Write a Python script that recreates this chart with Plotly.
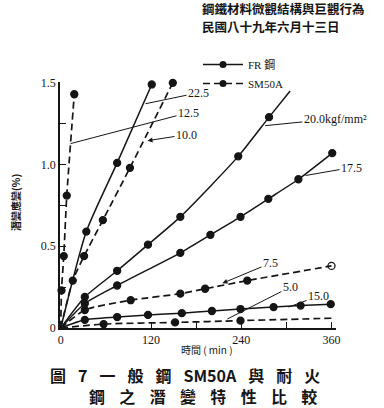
import plotly.graph_objects as go

# ---------------- data ----------------
time_tickvals = [0, 60, 120, 180, 240, 300, 360]
time_ticktext = ["0", "", "120", "", "240", "", "360"]
strain_tickvals = [0, 0.25, 0.5, 0.75, 1.0, 1.25, 1.5]
strain_ticktext = ["0", "", "0.5", "", "1.0", "", "1.5"]

# FR steel (solid)
fr225_t = [34, 75, 121]
fr225_y = [0.59, 1.01, 1.49]
fr200_t = [32, 75, 116, 159, 236, 277, 305]
fr200_y = [0.19, 0.35, 0.51, 0.68, 1.05, 1.29, 1.45]
fr175_t = [32, 75, 159, 199, 239, 276, 316, 361]
fr175_y = [0.15, 0.26, 0.46, 0.57, 0.68, 0.79, 0.91, 1.07]
fr150_t = [32, 75, 116, 161, 201, 239, 283, 319, 359]
fr150_y = [0.05, 0.067, 0.08, 0.091, 0.104, 0.116, 0.128, 0.137, 0.146]

# SM50A (dashed)
sm125_t = [1, 4, 8, 18]
sm125_y = [0.23, 0.44, 0.81, 1.43]
sm100_t = [16, 31, 56, 92, 149]
sm100_y = [0.29, 0.44, 0.66, 0.98, 1.50]
sm75_t = [32, 93, 159, 192, 248, 360]
sm75_y = [0.11, 0.17, 0.21, 0.24, 0.29, 0.38]
sm50_t = [57, 152, 239, 362]
sm50_y = [0.024, 0.034, 0.045, 0.06]

# stress labels and the curve points their leaders touch
label_text = ["22.5", "12.5", "10.0", "20.0kgf/mm²", "17.5", "7.5", "5.0", "15.0"]
label_t = [112.7, 13, 115.4, 272, 325.5, 215, 221.5, 303]
label_y = [1.372, 1.128, 1.146, 1.238, 0.933, 0.274, 0.055, 0.128]

caption_line1 = ["圖", "7", "一", "般", "鋼", "SM50A", "與", "耐", "火"]
caption_line2 = ["鋼", "之", "潛", "變", "特", "性", "比", "較"]

# ---------------- figure ----------------
W, H = 384, 408
ML, MR, MT, MB = 60, 48, 82, 80
PW, PH = W - ML - MR, H - MT - MB

INK = "#151515"
SERIF = "Liberation Serif, DejaVu Serif, Noto Sans CJK TC"
CJK = "Noto Sans CJK TC"
DASH = "7px,4px"
GAP1 = "\u2002\u2005"
GAP2 = "\u2002\u2004\u200a"

def px(x, y):
    """pixel position in the page -> paper coordinates"""
    return (x - ML) / PW, (H - MB - y) / PH

series = [
    (fr225_t, fr225_y, "solid", "filled"),
    (fr200_t, fr200_y, "solid", "end_plain"),
    (fr175_t, fr175_y, "solid", "filled"),
    (fr150_t, fr150_y, "solid", "filled"),
    (sm125_t, sm125_y, DASH, "filled"),
    (sm100_t, sm100_y, DASH, "filled"),
    (sm75_t, sm75_y, DASH, "end_open"),
    (sm50_t, sm50_y, DASH, "end_plain"),
]

fig = go.Figure()

# legend entries
fig.add_trace(go.Scatter(x=[None], y=[None], mode="lines+markers", name="FR 鋼",
                         line=dict(color=INK, width=1.6),
                         marker=dict(color=INK, size=7, symbol="circle")))
fig.add_trace(go.Scatter(x=[None], y=[None], mode="lines+markers", name="SM50A",
                         line=dict(color=INK, width=1.6, dash=DASH),
                         marker=dict(color=INK, size=7, symbol="circle")))

for t, y, dash, endstyle in series:
    fig.add_trace(go.Scatter(
        x=[0] + list(t), y=[0] + list(y), mode="lines",
        line=dict(color=INK, width=1.7 if dash != "solid" else 1.5, dash=dash,
                  shape="spline", smoothing=0.6),
        showlegend=False, hoverinfo="skip"))
    mt, my = list(t), list(y)
    symbols = ["circle"] * len(mt)
    if endstyle == "end_plain":
        mt, my, symbols = mt[:-1], my[:-1], symbols[:-1]
    elif endstyle == "end_open":
        symbols[-1] = "circle-open"
    fig.add_trace(go.Scatter(
        x=mt, y=my, mode="markers", cliponaxis=False,
        marker=dict(color=INK, size=7, symbol=symbols,
                    line=dict(color=INK, width=1.3)),
        showlegend=False, hoverinfo="skip"))

# label offsets (pixels, text centre relative to leader tip) and arrow style
offsets = [(53, -11), (118, -31), (39, -6), (70, -7), (46, -8), (48, -20), (63, -32), (30, -11)]
heads = [0, 0, 2, 0, 0, 2, 0, 0]
for txt, t, y, (ax, ay), hd in zip(label_text, label_t, label_y, offsets, heads):
    fig.add_annotation(x=t, y=y, text=txt, showarrow=True, ax=ax, ay=ay,
                       arrowhead=hd, arrowsize=1, arrowwidth=1, arrowcolor=INK,
                       font=dict(family=SERIF, size=12, color=INK))

# header, axis titles and caption
ann = []
x0, y0 = px(200, 8)
ann.append(dict(x=x0, y=y0, text="鋼鐵材料微觀結構與巨觀行為", xanchor="left", yanchor="middle",
                font=dict(family=CJK, size=12.5, color=INK, weight=700)))
x0, y0 = px(200, 26)
ann.append(dict(x=x0, y=y0, text="民國八十九年六月十三日", xanchor="left", yanchor="middle",
                font=dict(family=CJK, size=12.5, color=INK, weight=700)))
x0, y0 = px(207, 349)
ann.append(dict(x=x0, y=y0, text="時間 ( min )", xanchor="center", yanchor="middle",
                font=dict(family=CJK, size=10, color=INK)))
x0, y0 = px(15, 203)
ann.append(dict(x=x0, y=y0, text="潛變應變(%)", textangle=-90, xanchor="center", yanchor="middle",
                font=dict(family=CJK, size=10, color=INK, weight=700)))
x0, y0 = px(48, 375)
ann.append(dict(x=x0, y=y0, text=GAP1.join(caption_line1),
                xanchor="left", yanchor="middle",
                font=dict(family=CJK, size=16, color=INK, weight=700)))
x0, y0 = px(87, 396)
ann.append(dict(x=x0, y=y0, text=GAP2.join(caption_line2),
                xanchor="left", yanchor="middle",
                font=dict(family=CJK, size=16, color=INK, weight=700)))
for a in ann:
    a.update(xref="paper", yref="paper", showarrow=False)
    fig.add_annotation(**a)

axis_common = dict(showline=True, linecolor=INK, linewidth=1.5, showgrid=False,
                   zeroline=False, ticks="inside", ticklen=6, tickwidth=1.3,
                   tickcolor=INK, tickfont=dict(family=SERIF, size=12, color=INK))
fig.update_xaxes(range=[-1, 366], tickvals=time_tickvals, ticktext=time_ticktext,
                 **axis_common)
fig.update_yaxes(range=[0, 1.505], tickvals=strain_tickvals, ticktext=strain_ticktext,
                 **axis_common)

lx, ly = px(198, 50)
fig.update_layout(
    width=W, height=H,
    margin=dict(l=ML, r=MR, t=MT, b=MB, pad=0),
    paper_bgcolor="white", plot_bgcolor="white",
    showlegend=True,
    legend=dict(x=lx, y=ly, xanchor="left", yanchor="top", bgcolor="rgba(0,0,0,0)",
                font=dict(family=SERIF + ", Noto Sans CJK TC", size=11, color=INK),
                tracegroupgap=0, itemwidth=40),
)

fig.write_html("out.html", config={"displayModeBar": False},
               post_script="document.body.style.margin='0px';")
